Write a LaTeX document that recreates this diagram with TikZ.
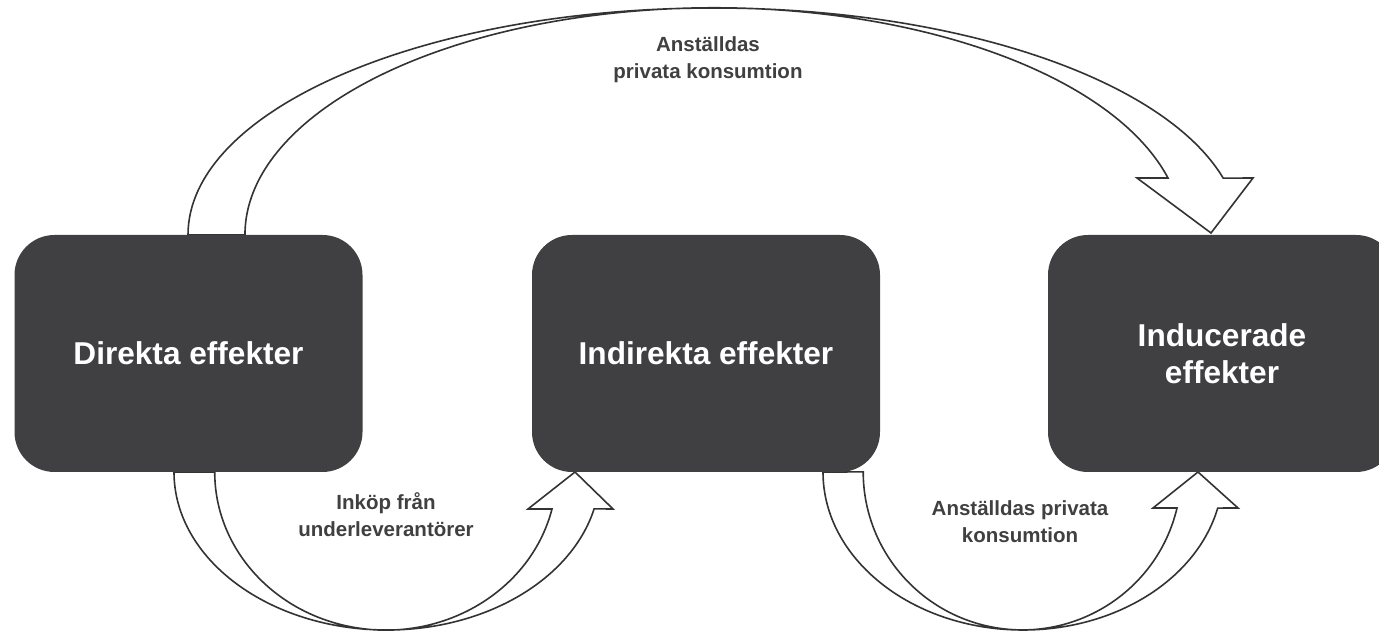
\documentclass[tikz,border=0pt]{standalone}
\usepackage{fontspec}
\setmainfont{Liberation Sans}
\usetikzlibrary{calc}
\definecolor{boxgray}{HTML}{404042}
\definecolor{linegray}{HTML}{333333}
\definecolor{textgray}{HTML}{404040}
\tikzset{
  effbox/.style={fill=boxgray, rounded corners=40pt, minimum width=348pt, minimum height=237pt,
    inner sep=0pt, text=white, font=\bfseries\fontsize{31.6}{37}\selectfont, align=center},
  blockarrow/.style={draw=linegray, fill=white, line width=1.6pt, line join=miter},
  lbl/.style={text=textgray, font=\bfseries\fontsize{20.5}{27}\selectfont, align=center},
}
\begin{document}
\begin{tikzpicture}[x=1pt,y=1pt]
\useasboundingbox (0,0) rectangle (1379,631);
\clip (0,0) rectangle (1379,631);
\fill[white] (0,0) rectangle (1379,631);
% anchor coordinates of the block arrows
\coordinate (topstart) at (188,396);
\coordinate (toptip) at (1211,398);
\coordinate (b1start) at (174,159);
\coordinate (b1tip) at (575,159);
\coordinate (b2start) at (823,159);
\coordinate (b2tip) at (1198,159);
% top curved arrow: Direkta -> Inducerade
\draw[blockarrow] (topstart) arc[start angle=180, end angle=14.5, x radius=526, y radius=227]
  -- (1253,453) -- (toptip) -- (1137,453) -- (1168,453)
  arc[start angle=14.5, end angle=180, x radius=469, y radius=227] -- cycle;
% bottom arrow 1: Direkta -> Indirekta
\draw[blockarrow] (b1start) arc[start angle=180, end angle=346.5, x radius=213, y radius=158]
  -- (613,122) -- (b1tip) -- (528,122) -- (552,122)
  arc[start angle=346.5, end angle=180, x radius=171, y radius=158] -- cycle;
% bottom arrow 2: Indirekta -> Inducerade
\draw[blockarrow] (b2start) arc[start angle=180, end angle=346.8, x radius=200, y radius=158]
  -- (1238,123) -- (b2tip) -- (1153,123) -- (1177,123)
  arc[start angle=346.8, end angle=180, x radius=159, y radius=158] -- cycle;
% boxes
\node[effbox] (d) at (188.5,277.5) {\raisebox{-2pt}{Direkta effekter}};
\node[effbox] (i) at (706,277.5) {\raisebox{-2pt}{Indirekta effekter}};
\node[effbox] (u) at (1222,277.5) {Inducerade\\effekter};
% labels
\node[lbl] (l1) at (708,571.5) {Anställdas\\privata konsumtion};
\node[lbl] (l2) at (386,116) {Inköp från\\underleverantörer};
\node[lbl] (l3) at (1020,109) {Anställdas privata\\konsumtion};
\end{tikzpicture}
\end{document}
